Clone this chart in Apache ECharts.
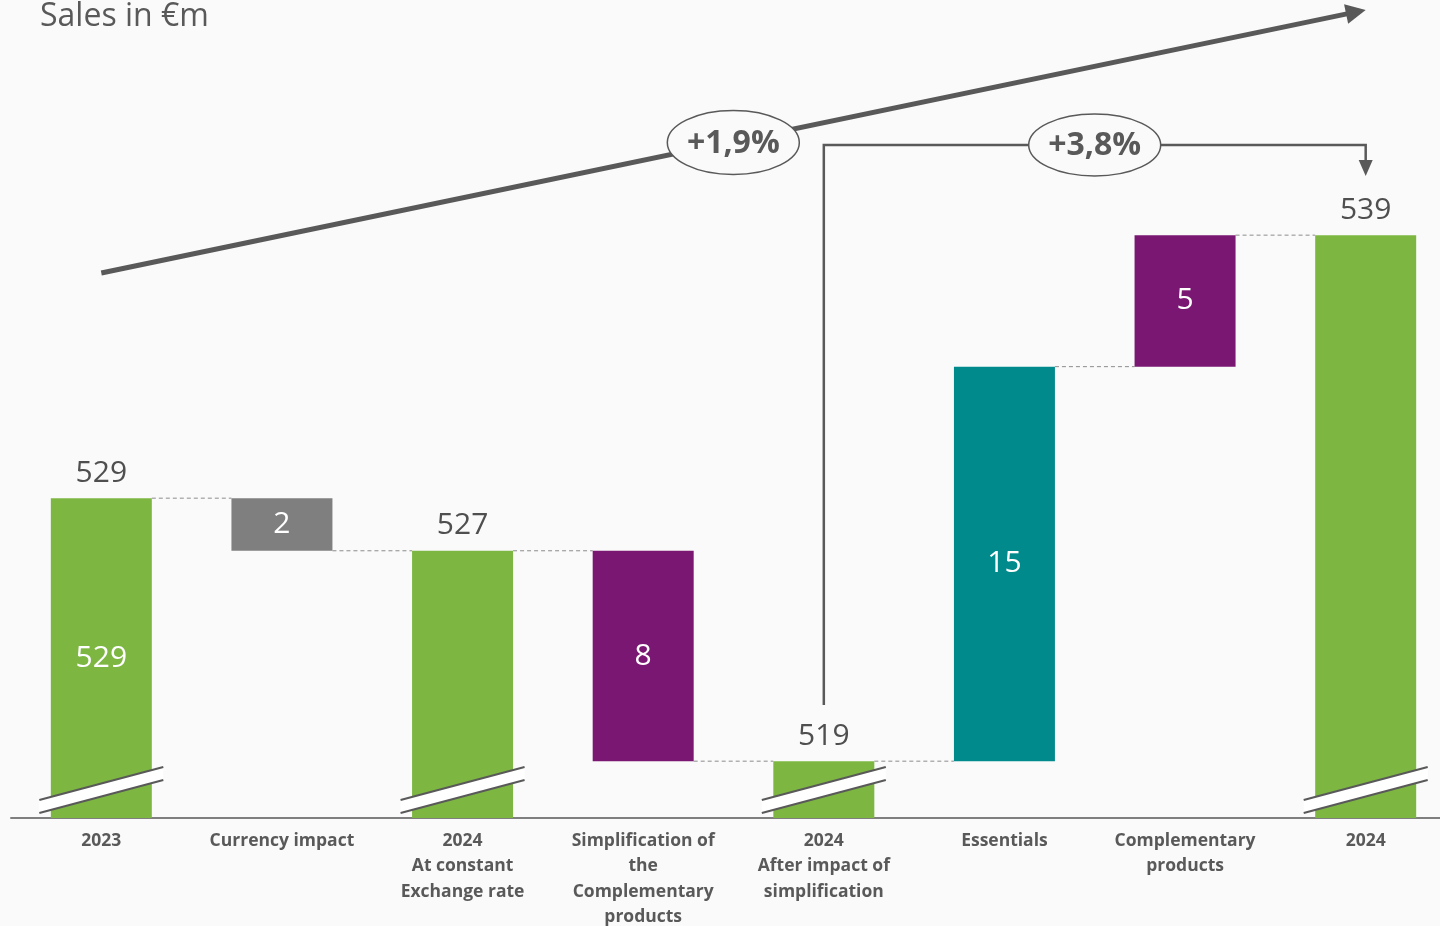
<!DOCTYPE html>
<html><head><meta charset="utf-8">
<script src="https://cdn.jsdelivr.net/npm/echarts@6/dist/echarts.min.js"></script>
<style>html,body{margin:0;padding:0;background:#fafafa;}#c{width:1440px;height:926px;}</style>
</head><body><div id="c"></div>
<script>
const categories = ['2023','Currency impact','2024\nAt constant\nExchange rate','Simplification of\nthe\nComplementary\nproducts','2024\nAfter impact of\nsimplification','Essentials','Complementary\nproducts','2024'];
const barLow  = [0, 527, 0, 519, 0, 519, 534, 0];
const barSize = [529, 2, 527, 8, 519, 15, 5, 539];
const kinds   = ['total','down','total','down2','total','up','up2','total'];
const insideLabels = ['529','2','','8','','15','5',''];
const topLabels = [[0,529],[2,527],[4,519],[7,539]];
const connectors = [[0,529],[1,527],[2,527],[3,519],[4,519],[5,534],[6,539]];
const breakBars = [0,2,4,7];
const growth1 = '+1,9%';
const growth2 = '+3,8%';
const axisMin = 516.84, axisMax = 547.94;

const colorMap = {total:'#7DB742', down:'#7F7F7F', down2:'#7A1772', up:'#008A8C', up2:'#7A1772'};
const txt = '#595959';
const BW = 101;

const chart = echarts.init(document.getElementById('c'));
chart.setOption({
  backgroundColor:'#fafafa',
  animation:false,
  title:{text:'Sales in €m', left:35, top:-4, textStyle:{fontFamily:'Open Sans', fontSize:32, fontWeight:'normal', color:txt}},
  grid:{left:11, width:1445, top:0, bottom:108, outerBoundsMode:'none', containLabel:false},
  xAxis:{type:'category', data:categories,
    axisLine:{lineStyle:{color:'#7F7F7F', width:2}}, axisTick:{show:false},
    axisLabel:{interval:0, margin:10, fontFamily:'Open Sans', fontWeight:'bold', fontSize:17.5, lineHeight:25.5, color:txt}},
  yAxis:{type:'value', min:axisMin, max:axisMax, show:false, splitLine:{show:false}},
  series:[
    {type:'bar', stack:'w', data:barLow, barWidth:BW, itemStyle:{color:'transparent'}, silent:true},
    {type:'bar', stack:'w', barWidth:BW, clip:true,
      data:barSize.map((v,i)=>({value:v, itemStyle:{color:colorMap[kinds[i]]}})),
      label:{show:true, position:'inside', fontFamily:'Open Sans', fontSize:30, color:'#fff',
        formatter:p=>insideLabels[p.dataIndex]}},
    {type:'scatter', data:topLabels, symbolSize:0.1, itemStyle:{color:'transparent'},
      label:{show:true, position:'top', distance:10, fontFamily:'Open Sans', fontSize:30, color:'#4f4f4f', opacity:1,
        formatter:p=>String(p.value[1])}},
    {type:'custom', data:connectors, z:1, renderItem:(params, api)=>{
        const p = api.coord([api.value(0), api.value(1)]);
        const bw = api.size([1,0])[0];
        return {type:'line', shape:{x1:p[0]+BW/2, y1:p[1], x2:p[0]+bw-BW/2, y2:p[1]},
          style:{stroke:'#8c8c8c', lineWidth:1, lineDash:[4,3]}};
      }},
    {type:'custom', data:breakBars.map(i=>[i, axisMin]), z:5, renderItem:(params, api)=>{
        const p = api.coord([api.value(0), api.value(1)]);
        const cx = p[0], cy = p[1]-28, hw = 62, dy = 16.5, t = 6.5;
        return {type:'group', children:[
          {type:'polygon', shape:{points:[[cx-hw,cy+dy-t],[cx+hw,cy-dy-t],[cx+hw,cy-dy+t],[cx-hw,cy+dy+t]]}, style:{fill:'#ffffff'}},
          {type:'line', shape:{x1:cx-hw,y1:cy+dy-t,x2:cx+hw,y2:cy-dy-t}, style:{stroke:'#595959', lineWidth:2}},
          {type:'line', shape:{x1:cx-hw,y1:cy+dy+t,x2:cx+hw,y2:cy-dy+t}, style:{stroke:'#595959', lineWidth:2}}
        ]};
      }}
  ]
});

// annotations anchored on category positions
const px = i => chart.convertToPixel({gridIndex:0}, [i, axisMin])[0];
const x0 = px(0), x4 = px(4), x7 = px(7);
const sx = x0, sy = 273, ex = x7, ey = 10;
const len = Math.hypot(ex-sx, ey-sy), ux=(ex-sx)/len, uy=(ey-sy)/len;
const hl = 20, hwid = 10;
const bx = ex-ux*hl, by = ey-uy*hl;
const e1x = 733 - 101 + x0;
const e1y = sy + (e1x - sx) * (ey-sy)/(ex-sx) + 1;
const e2x = 1094 - 1365 + x7;
const graphic = [
  {type:'line', shape:{x1:sx,y1:sy,x2:bx+ux*2,y2:by+uy*2}, style:{stroke:txt, lineWidth:5}, z:10},
  {type:'polygon', shape:{points:[[ex,ey],[bx-uy*hwid,by+ux*hwid],[bx+uy*hwid,by-ux*hwid]]}, style:{fill:txt}, z:10},
  {type:'ellipse', shape:{cx:e1x, cy:e1y, rx:66, ry:32}, style:{fill:'#fafafa', stroke:txt, lineWidth:1.5}, z:11},
  {type:'text', x:e1x, y:e1y+1, style:{text:growth1, fill:txt, font:'bold 32px "Open Sans"', align:'center', verticalAlign:'middle'}, z:12},
  {type:'polyline', shape:{points:[[x4,705],[x4,145],[x7,145],[x7,162]]}, style:{stroke:txt, lineWidth:2.5, fill:null}, z:10},
  {type:'polygon', shape:{points:[[x7-7,160],[x7+7,160],[x7,176]]}, style:{fill:txt}, z:10},
  {type:'ellipse', shape:{cx:e2x, cy:145, rx:66, ry:31}, style:{fill:'#fafafa', stroke:txt, lineWidth:1.5}, z:11},
  {type:'text', x:e2x, y:146, style:{text:growth2, fill:txt, font:'bold 32px "Open Sans"', align:'center', verticalAlign:'middle'}, z:12}
];
chart.setOption({graphic});
</script></body></html>
